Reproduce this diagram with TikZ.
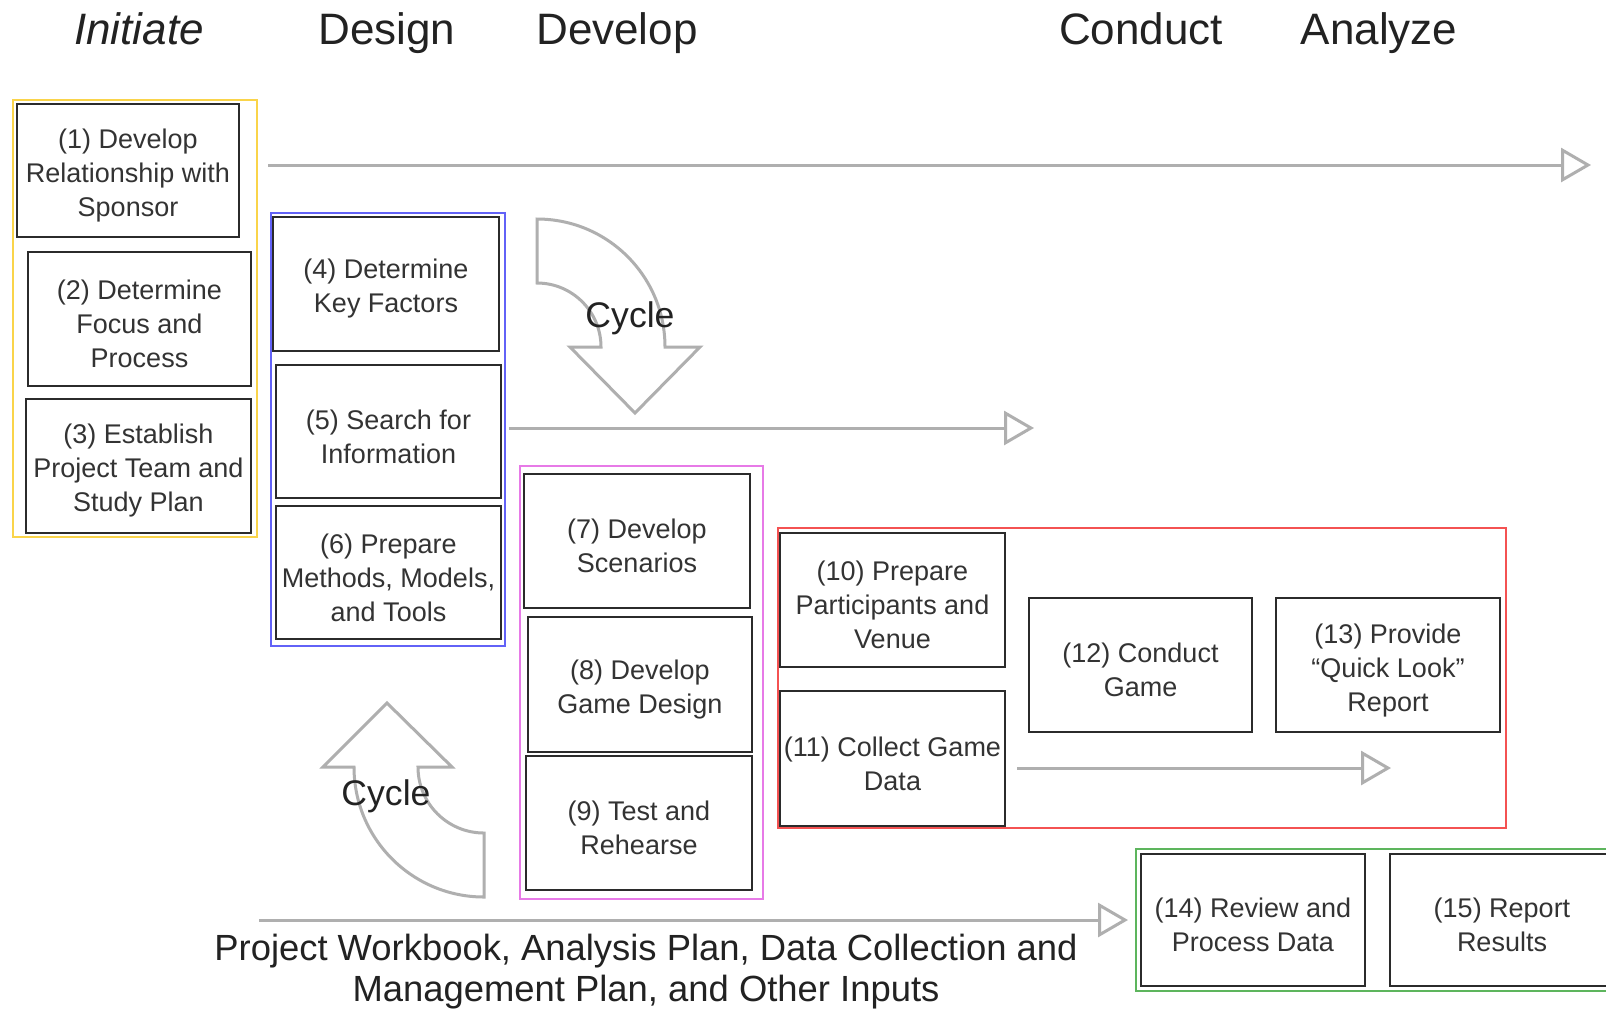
\documentclass[tikz,border=0pt]{standalone}
\usepackage{fontspec}
\setmainfont{Liberation Sans}
\usetikzlibrary{arrows.meta,fit}
\definecolor{boxtext}{HTML}{333333}
\definecolor{boxline}{HTML}{2B2B2B}
\definecolor{headtext}{HTML}{222222}
\definecolor{arrowgray}{HTML}{AFAFAF}
\definecolor{yellowc}{HTML}{FAD44A}
\definecolor{bluec}{HTML}{6262F7}
\definecolor{pinkc}{HTML}{E77AE7}
\definecolor{redc}{HTML}{F45252}
\definecolor{greenc}{HTML}{5DB55D}
\newcommand{\stepnode}[5]{%
  \node[stepbox, minimum width=#3, minimum height=#4] (#1) at (#2) {};
  \node[steptext] (#1t) at ([yshift=-2.5pt]#1.center) {#5};}
\begin{document}
\begin{tikzpicture}[x=0.5pt,y=-0.5pt,
  stepbox/.style={draw=boxline, line width=1.2pt, inner sep=0pt},
  steptext/.style={inner sep=0pt, align=center, text=boxtext, font=\fontsize{13.5}{17}\selectfont},
  grp/.style={draw=#1, line width=1pt, inner sep=0pt},
  flow/.style={draw=arrowgray, line width=1.5pt, -{Triangle[open, length=15pt, width=17pt]}},
  cyc/.style={draw=arrowgray, line width=1.5pt, line join=miter},
  header/.style={font=\fontsize{22}{26}\selectfont, text=headtext, anchor=base},
  cyctext/.style={font=\fontsize{17.8}{20}\selectfont, text=headtext, anchor=base},
  bottomtext/.style={font=\fontsize{18.2}{20.5}\selectfont, text=headtext, align=center},
  ]
\useasboundingbox[fill=white] (0,0) rectangle (1606,1009);

% headers
\node[header, font=\fontsize{22}{26}\selectfont\itshape] (hInit) at (139,44) {Initiate};
\node[header] (hDes) at (387,44) {Design};
\node[header] (hDev) at (617,44) {Develop};
\node[header] (hCon) at (1141,44) {Conduct};
\node[header] (hAna) at (1379,44) {Analyze};

% group frames
\node[grp=yellowc, fit={(13,100) (257,537)}] (gInit) {};
\node[grp=bluec, fit={(271,213) (505,646)}] (gDes) {};
\node[grp=pinkc, fit={(520,466) (763,899)}] (gDev) {};
\node[grp=redc, fit={(778,528) (1506,828)}] (gCon) {};
\node[grp=greenc, fit={(1136,849) (1630,991)}] (gAna) {};

% steps
\stepnode{b1}{128,170.5}{111pt}{66.5pt}{(1) Develop\\Relationship with\\Sponsor}
\stepnode{b2}{139.5,319}{111.5pt}{67pt}{(2) Determine\\Focus and\\Process}
\stepnode{b3}{138.5,466}{112.5pt}{67pt}{(3) Establish\\Project Team and\\Study Plan}
\stepnode{b4}{386,284}{113pt}{67pt}{(4) Determine\\Key Factors}
\stepnode{b5}{388.5,431.5}{112.5pt}{66.5pt}{(5) Search for\\Information}
\stepnode{b6}{388.5,572.5}{112.5pt}{66.5pt}{(6) Prepare\\Methods, Models,\\and Tools}
\stepnode{b7}{637,541}{113pt}{67pt}{(7) Develop\\Scenarios}
\stepnode{b8}{640,684.5}{112pt}{67.5pt}{(8) Develop\\Game Design}
\stepnode{b9}{639,823}{113pt}{67pt}{(9) Test and\\Rehearse}
\stepnode{b10}{892.5,600}{112.5pt}{67pt}{(10) Prepare\\Participants and\\Venue}
\stepnode{b11}{892.5,758.5}{112.5pt}{67.5pt}{(11) Collect Game\\Data}
\stepnode{b12}{1140.5,665}{111.5pt}{67pt}{(12) Conduct\\Game}
\stepnode{b13}{1388,665}{112pt}{67pt}{(13) Provide\\“Quick Look”\\Report}
\stepnode{b14}{1253,920}{112pt}{66pt}{(14) Review and\\Process Data}
\stepnode{b15}{1502,920}{112pt}{66pt}{(15) Report\\Results}

% flow arrows
\coordinate (f1s) at (268,165);
\coordinate (f1e) at (1591,165);
\coordinate (f2s) at (509,428);
\coordinate (f2e) at (1034,428);
\coordinate (f3s) at (1017,768);
\coordinate (f3e) at (1391,768);
\coordinate (f4s) at (259,920);
\coordinate (f4e) at (1128,920);
\draw[flow] (f1s) -- (f1e);
\draw[flow] (f2s) -- (f2e);
\draw[flow] (f3s) -- (f3e);
\draw[flow] (f4s) -- (f4e);

% cycle arrows
\draw[cyc] (537,219) .. controls (607.7,219) and (665,276.3) .. (665,347)
  -- (700,347) -- (635,413) -- (570,347) -- (601,347)
  .. controls (601,311.7) and (572.3,283) .. (537,283) -- cycle;
\draw[cyc] (354,767) -- (323,767) -- (387,703) -- (452,767) -- (418,767)
  .. controls (418,803.5) and (447.5,833) .. (484,833) -- (484,897)
  .. controls (412.2,897) and (354,838.8) .. (354,767) -- cycle;
\node[cyctext] (c1) at (630,327) {Cycle};
\node[cyctext] (c2) at (386,805) {Cycle};

% bottom text
\node[bottomtext] (inputs) at (646,972) {Project Workbook, Analysis Plan, Data Collection and\\Management Plan, and Other Inputs};
\end{tikzpicture}
\end{document}
